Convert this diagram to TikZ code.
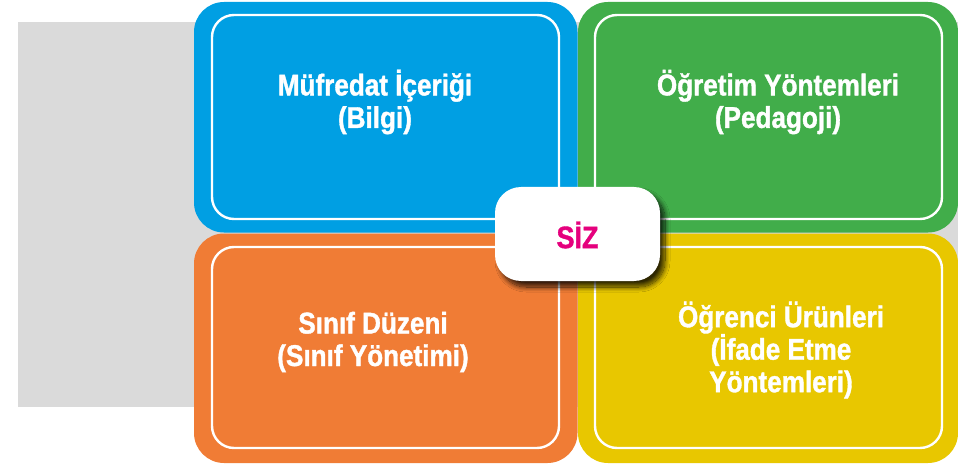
\documentclass[tikz,border=0pt]{standalone}
\usepackage{fontspec}
\setmainfont{Liberation Sans}
\newfontfamily\condfont{Liberation Sans}[FakeStretch=0.87, FakeBold=1.2]
\usetikzlibrary{shadows.blur}
\definecolor{cblue}{HTML}{009FE3}
\definecolor{cgreen}{HTML}{41AD4A}
\definecolor{corange}{HTML}{F07C35}
\definecolor{cyellow}{HTML}{E8C700}
\definecolor{cmag}{HTML}{E5007D}
\definecolor{cgray}{HTML}{DADADA}
\tikzset{
  outerbox/.style={rounded corners=30pt},
  innerbox/.style={draw=white, line width=2.4pt, rounded corners=22pt},
  lbl/.style={text=white, align=center, font=\condfont\bfseries\fontsize{30}{32.5}\selectfont, inner sep=0pt},
  centerbox/.style={fill=white, rounded corners=26pt, blur shadow={shadow xshift=5pt, shadow yshift=-6pt, shadow blur steps=12, shadow blur radius=5pt, shadow opacity=80}}
}
\begin{document}
\begin{tikzpicture}[x=1pt,y=-1pt]
\useasboundingbox (0,0) rectangle (958,465);
\fill[cgray] (18,22) rectangle (958,407);
% outer boxes
\fill[cblue, outerbox] (194,2) rectangle (577.5,232.5);
\fill[cgreen, outerbox] (578,2) rectangle (958,232.5);
\fill[corange, outerbox] (194,233.5) rectangle (577.5,463);
\fill[cyellow, outerbox] (578,233.5) rectangle (958,463);
% inner outlines
\draw[innerbox] (212,15) rectangle (559,219);
\draw[innerbox] (595,15) rectangle (942,219);
\draw[innerbox] (212,247) rectangle (559,448);
\draw[innerbox] (595,247) rectangle (942,448);
% labels
\node[lbl] (bilgi) at (375,102) {Müfredat İçeriği\\(Bilgi)};
\node[lbl] (ped) at (778,102) {Öğretim Yöntemleri\\(Pedagoji)};
\node[lbl] (sinif) at (373,342) {Sınıf Düzeni\\(Sınıf Yönetimi)};
\node[lbl] (ogr) at (781,350) {Öğrenci Ürünleri\\(İfade Etme\\Yöntemleri)};
% center
\path[centerbox] (495,187) rectangle (660,281);
\node[text=cmag, font=\condfont\bfseries\fontsize{31}{32}\selectfont, inner sep=0pt] (siz) at (577.5,235) {SİZ};
\end{tikzpicture}
\end{document}
